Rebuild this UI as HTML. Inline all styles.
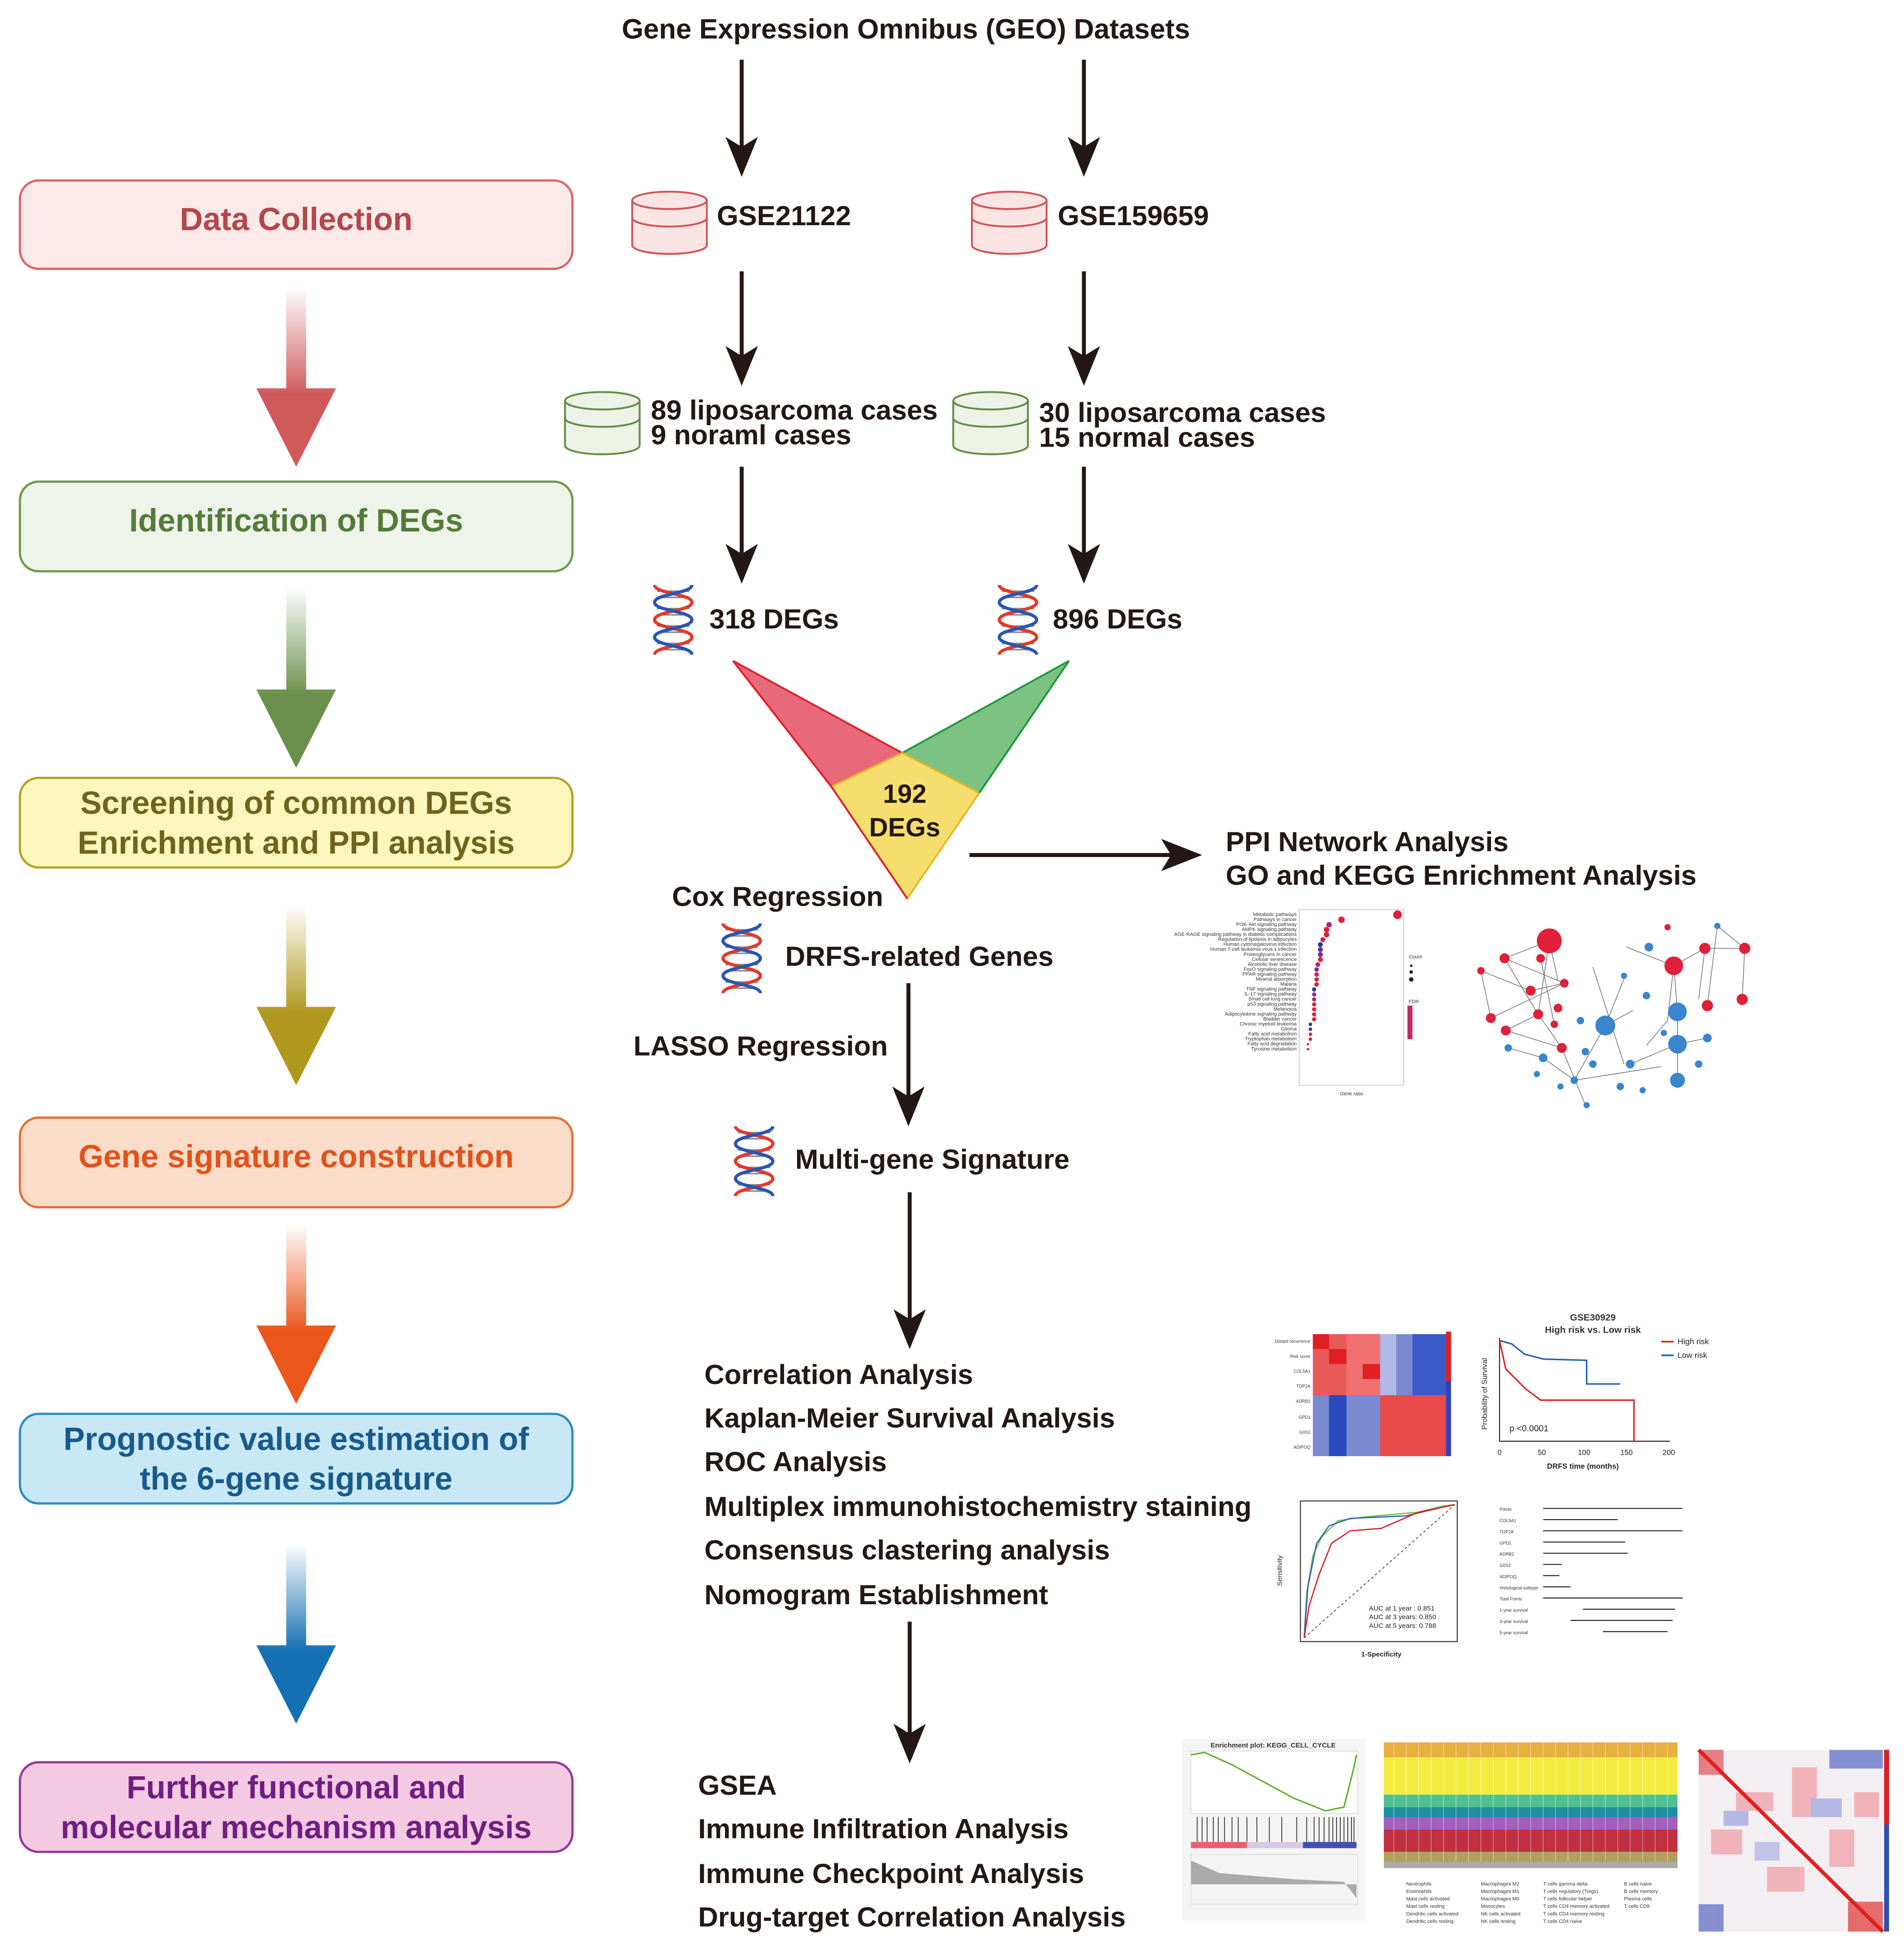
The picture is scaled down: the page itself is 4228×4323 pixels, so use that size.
<!DOCTYPE html>
<html><head><meta charset="utf-8"><style>html,body{margin:0;padding:0;background:#fff}svg{display:block}</style></head>
<body>
<svg xmlns="http://www.w3.org/2000/svg" width="4228" height="4323" viewBox="0 0 1530 1564.4" font-family="Liberation Sans, Arial, sans-serif">
<defs>
<linearGradient id="gr" x1="0" y1="0" x2="0" y2="1"><stop offset="0" stop-color="#fff"/><stop offset="0.6" stop-color="#d05a5a"/></linearGradient>
<linearGradient id="gg" x1="0" y1="0" x2="0" y2="1"><stop offset="0" stop-color="#fff"/><stop offset="0.6" stop-color="#6a8f4a"/></linearGradient>
<linearGradient id="gy" x1="0" y1="0" x2="0" y2="1"><stop offset="0" stop-color="#fff"/><stop offset="0.6" stop-color="#b0981e"/></linearGradient>
<linearGradient id="go" x1="0" y1="0" x2="0" y2="1"><stop offset="0" stop-color="#fff"/><stop offset="0.6" stop-color="#ea561c"/></linearGradient>
<linearGradient id="gb" x1="0" y1="0" x2="0" y2="1"><stop offset="0" stop-color="#fff"/><stop offset="0.6" stop-color="#1470b2"/></linearGradient>
<symbol id="cylR" viewBox="0 0 64 54"><path d="M2,9 v36 a30,7 0 0 0 60,0 v-36" fill="#fbe5e4" stroke="#d0545a" stroke-width="1.5"/><ellipse cx="32" cy="9" rx="30" ry="7" fill="#fbe5e4" stroke="#d0545a" stroke-width="1.5"/><path d="M2,23 a30,7 0 0 0 60,0" fill="none" stroke="#d0545a" stroke-width="1.5"/></symbol>
<symbol id="cylG" viewBox="0 0 64 54"><path d="M2,9 v36 a30,7 0 0 0 60,0 v-36" fill="#ecf3e6" stroke="#5f8d46" stroke-width="1.5"/><ellipse cx="32" cy="9" rx="30" ry="7" fill="#ecf3e6" stroke="#5f8d46" stroke-width="1.5"/><path d="M2,23 a30,7 0 0 0 60,0" fill="none" stroke="#5f8d46" stroke-width="1.5"/></symbol>
<symbol id="dna" viewBox="0 0 38 58">
<g stroke="#888" stroke-width="1.2"><line x1="6" y1="5" x2="32" y2="5"/><line x1="10" y1="10" x2="28" y2="10"/><line x1="6" y1="19" x2="32" y2="19"/><line x1="10" y1="24" x2="28" y2="24"/><line x1="6" y1="33" x2="32" y2="33"/><line x1="10" y1="38" x2="28" y2="38"/><line x1="6" y1="47" x2="32" y2="47"/><line x1="10" y1="52" x2="28" y2="52"/></g>
<path d="M4,0 C4,7 34,7 34,14 C34,21 4,21 4,28 C4,35 34,35 34,42 C34,49 4,49 4,56" fill="none" stroke="#e03a2a" stroke-width="2.6"/>
<path d="M34,0 C34,7 4,7 4,14 C4,21 34,21 34,28 C34,35 4,35 4,42 C4,49 34,49 34,56" fill="none" stroke="#2a56b0" stroke-width="2.6"/>
</symbol>
</defs>

<!-- Left boxes -->
<g font-weight="bold" text-anchor="middle" font-size="25.7">
<rect x="16" y="145" width="444" height="71" rx="15" fill="#fbeae8" stroke="#d9666c" stroke-width="1.8"/>
<text x="238" y="185" fill="#b2474c">Data Collection</text>
<rect x="16" y="387" width="444" height="72" rx="15" fill="#eef4ea" stroke="#6f9a4d" stroke-width="1.8"/>
<text x="238" y="427" fill="#557a39">Identification of DEGs</text>
<rect x="16" y="625" width="444" height="72" rx="15" fill="#fbf6bb" stroke="#b3a12c" stroke-width="1.8"/>
<text x="238" y="654" fill="#6e6420">Screening of common DEGs</text>
<text x="238" y="686" fill="#6e6420">Enrichment and PPI analysis</text>
<rect x="16" y="898" width="444" height="72" rx="15" fill="#fbdcc8" stroke="#e66f36" stroke-width="1.8"/>
<text x="238" y="938" fill="#e0531c">Gene signature construction</text>
<rect x="16" y="1136" width="444" height="72" rx="15" fill="#c9e8f5" stroke="#2c8bc4" stroke-width="1.8"/>
<text x="238" y="1165" fill="#195a8c">Prognostic value estimation of</text>
<text x="238" y="1197" fill="#195a8c">the 6-gene signature</text>
<rect x="16" y="1416" width="444" height="72" rx="15" fill="#f4c9e2" stroke="#93379a" stroke-width="1.8"/>
<text x="238" y="1445" fill="#6e1f80">Further functional and</text>
<text x="238" y="1477" fill="#6e1f80">molecular mechanism analysis</text>
</g>

<!-- gradient arrows -->
<path d="M230,230 h16 v82 h24 l-32,63 l-32,-63 h24 z" fill="url(#gr)"/>
<path d="M230,472 h16 v82 h24 l-32,63 l-32,-63 h24 z" fill="url(#gg)"/>
<path d="M230,727 h16 v82 h24 l-32,63 l-32,-63 h24 z" fill="url(#gy)"/>
<path d="M230,983 h16 v82 h24 l-32,63 l-32,-63 h24 z" fill="url(#go)"/>
<path d="M230,1240 h16 v82 h24 l-32,63 l-32,-63 h24 z" fill="url(#gb)"/>

<!-- flow -->
<text x="728" y="31" font-size="22.4" font-weight="bold" text-anchor="middle" fill="#231815">Gene Expression Omnibus (GEO) Datasets</text>
<g stroke="#231815" stroke-width="3.2" fill="none">
<line x1="596" y1="48" x2="596" y2="132"/><line x1="871" y1="48" x2="871" y2="132"/>
<line x1="596" y1="218" x2="596" y2="300"/><line x1="871" y1="218" x2="871" y2="300"/>
<line x1="596" y1="375" x2="596" y2="460"/><line x1="871" y1="375" x2="871" y2="460"/>
<line x1="779" y1="687" x2="950" y2="687"/>
<line x1="730" y1="790" x2="730" y2="892"/>
<line x1="731" y1="958" x2="731" y2="1074"/>
<line x1="731" y1="1303" x2="731" y2="1407"/>
</g>
<g fill="#231815">
<path d="M583,110 L596,142 L609,110 L596,118 Z"/><path d="M858,110 L871,142 L884,110 L871,118 Z"/>
<path d="M583,278 L596,310 L609,278 L596,286 Z"/><path d="M858,278 L871,310 L884,278 L871,286 Z"/>
<path d="M583,437 L596,469 L609,437 L596,445 Z"/><path d="M858,437 L871,469 L884,437 L871,445 Z"/>
<path d="M933,674 L966,687 L933,700 L941,687 Z"/>
<path d="M717,873 L730,905 L743,873 L730,881 Z"/>
<path d="M718,1052 L731,1084 L744,1052 L731,1060 Z"/>
<path d="M718,1385 L731,1417 L744,1385 L731,1393 Z"/>
</g>

<use href="#cylR" x="506" y="152" width="64" height="54"/>
<use href="#cylR" x="779" y="152" width="64" height="54"/>
<use href="#cylG" x="452" y="313" width="64" height="54"/>
<use href="#cylG" x="764" y="313" width="64" height="54"/>
<use href="#dna" x="522" y="470" width="38" height="58"/>
<use href="#dna" x="799" y="470" width="38" height="58"/>
<use href="#dna" x="577" y="742" width="38" height="58"/>
<use href="#dna" x="587" y="905" width="38" height="58"/>

<g font-weight="bold" fill="#231815" font-size="22.3">
<text x="576" y="181">GSE21122</text>
<text x="850" y="181">GSE159659</text>
<text x="523" y="337">89 liposarcoma cases</text>
<text x="523" y="357">9 noraml cases</text>
<text x="835" y="339">30 liposarcoma cases</text>
<text x="835" y="359">15 normal cases</text>
<text x="570" y="505">318 DEGs</text>
<text x="846" y="505">896 DEGs</text>
<text x="985" y="684">PPI Network Analysis</text>
<text x="985" y="711">GO and KEGG Enrichment Analysis</text>
<text x="540" y="728">Cox Regression</text>
<text x="631" y="776">DRFS-related Genes</text>
<text x="509" y="848">LASSO Regression</text>
<text x="639" y="939">Multi-gene Signature</text>
<text x="566" y="1112">Correlation Analysis</text>
<text x="566" y="1147">Kaplan-Meier Survival Analysis</text>
<text x="566" y="1182">ROC Analysis</text>
<text x="566" y="1218">Multiplex immunohistochemistry staining</text>
<text x="566" y="1253">Consensus clastering analysis</text>
<text x="566" y="1289">Nomogram Establishment</text>
<text x="561" y="1442">GSEA</text>
<text x="561" y="1477">Immune Infiltration Analysis</text>
<text x="561" y="1513">Immune Checkpoint Analysis</text>
<text x="561" y="1548">Drug-target Correlation Analysis</text>
</g>

<!-- V diagram -->
<polygon points="589,531 725,605 668,632" fill="#e8697a" stroke="#e0202a" stroke-width="1.5"/>
<polygon points="859,531 725,605 787,637" fill="#7cc283" stroke="#1e9a3a" stroke-width="1.5"/>
<polygon points="725,605 668,632 729,722 787,637" fill="#f6de6e" stroke="#e8b428" stroke-width="1.5"/>
<polyline points="589,531 668,632 729,722" fill="none" stroke="#e0202a" stroke-width="1.5"/>
<polyline points="859,531 787,637" fill="none" stroke="#1e9a3a" stroke-width="1.5"/>
<text x="727" y="645" font-size="21" font-weight="bold" text-anchor="middle" fill="#231815">192</text>
<text x="727" y="672" font-size="21" font-weight="bold" text-anchor="middle" fill="#231815">DEGs</text>

<!-- dot plot -->
<g font-size="4" fill="#333" text-anchor="end">
<rect x="1044" y="731" width="84" height="141" fill="#fff" stroke="#bbb" stroke-width="0.5"/>
<text x="1042" y="736">Metabolic pathways</text><text x="1042" y="740">Pathways in cancer</text><text x="1042" y="744">PI3K-Akt signaling pathway</text><text x="1042" y="748">AMPK signaling pathway</text><text x="1042" y="752">AGE-RAGE signaling pathway in diabetic complications</text><text x="1042" y="756">Regulation of lipolysis in adipocytes</text><text x="1042" y="760">Human cytomegalovirus infection</text><text x="1042" y="764">Human T-cell leukemia virus 1 infection</text><text x="1042" y="768">Proteoglycans in cancer</text><text x="1042" y="772">Cellular senescence</text><text x="1042" y="776">Alcoholic liver disease</text><text x="1042" y="780">FoxO signaling pathway</text><text x="1042" y="784">PPAR signaling pathway</text><text x="1042" y="788">Mineral absorption</text><text x="1042" y="792">Malaria</text><text x="1042" y="796">TNF signaling pathway</text><text x="1042" y="800">IL-17 signaling pathway</text><text x="1042" y="804">Small cell lung cancer</text><text x="1042" y="808">p53 signaling pathway</text><text x="1042" y="812">Melanoma</text><text x="1042" y="816">Adipocytokine signaling pathway</text><text x="1042" y="820">Bladder cancer</text><text x="1042" y="824">Chronic myeloid leukemia</text><text x="1042" y="828">Glioma</text><text x="1042" y="832">Fatty acid metabolism</text><text x="1042" y="836">Tryptophan metabolism</text><text x="1042" y="840">Fatty acid degradation</text><text x="1042" y="844">Tyrosine metabolism</text>
<text x="1086" y="880" text-anchor="middle">Gene ratio</text>
<text x="1132" y="770" text-anchor="start">Count</text><text x="1132" y="806" text-anchor="start">FDR</text>
</g>
<g fill="#222"><circle cx="1134" cy="776" r="1"/><circle cx="1134" cy="781" r="1.4"/><circle cx="1134" cy="787" r="1.8"/></g>
<g fill="#e0203a">
<circle cx="1123" cy="735" r="3.5"/><circle cx="1078" cy="739" r="2.6"/><circle cx="1068" cy="743" r="2.2" fill="#b02878"/><circle cx="1066" cy="747" r="2.2"/><circle cx="1066" cy="751" r="2.2"/><circle cx="1063" cy="755" r="2"/><circle cx="1061" cy="759" r="2" fill="#2a3a98"/><circle cx="1061" cy="763" r="2" fill="#5a34a0"/><circle cx="1061" cy="767" r="2" fill="#7a2aa0"/><circle cx="1061" cy="771" r="2"/><circle cx="1059" cy="775" r="1.9" fill="#b02878"/><circle cx="1058" cy="779" r="1.8" fill="#8a2a98"/><circle cx="1058" cy="783" r="1.8"/><circle cx="1058" cy="787" r="1.8"/><circle cx="1058" cy="791" r="1.8"/><circle cx="1056" cy="795" r="1.7" fill="#2a3a98"/><circle cx="1056" cy="799" r="1.7" fill="#8a2a98"/><circle cx="1056" cy="803" r="1.7" fill="#b02878"/><circle cx="1056" cy="807" r="1.7"/><circle cx="1056" cy="811" r="1.7"/><circle cx="1056" cy="815" r="1.7"/><circle cx="1056" cy="819" r="1.7"/><circle cx="1053" cy="823" r="1.4" fill="#2a3a98"/><circle cx="1053" cy="827" r="1.4" fill="#2a3a98"/><circle cx="1053" cy="831" r="1.4"/><circle cx="1053" cy="835" r="1.4"/><circle cx="1051" cy="839" r="1"/><circle cx="1051" cy="843" r="1"/>
</g>
<rect x="1131" y="808" width="4" height="27" fill="#c0286a"/>

<!-- network -->
<g stroke="#777" stroke-width="0.6">
<line x1="1209" y1="770" x2="1245" y2="756"/><line x1="1209" y1="770" x2="1257" y2="790"/><line x1="1209" y1="770" x2="1236" y2="815"/><line x1="1245" y1="756" x2="1236" y2="815"/><line x1="1245" y1="756" x2="1252" y2="788"/><line x1="1190" y1="780" x2="1198" y2="818"/><line x1="1198" y1="818" x2="1257" y2="790"/><line x1="1236" y1="815" x2="1255" y2="842"/><line x1="1236" y1="815" x2="1210" y2="828"/><line x1="1345" y1="776" x2="1340" y2="820"/><line x1="1340" y1="820" x2="1323" y2="840"/><line x1="1345" y1="776" x2="1307" y2="761"/><line x1="1370" y1="762" x2="1402" y2="762"/><line x1="1370" y1="762" x2="1365" y2="803"/><line x1="1290" y1="824" x2="1312" y2="812"/><line x1="1290" y1="824" x2="1265" y2="868"/><line x1="1348" y1="839" x2="1372" y2="834"/><line x1="1310" y1="855" x2="1348" y2="839"/><line x1="1265" y1="868" x2="1335" y2="857"/><line x1="1255" y1="842" x2="1274" y2="888"/><line x1="1306" y1="784" x2="1290" y2="824"/><line x1="1280" y1="777" x2="1305" y2="855"/>
<line x1="1190" y1="780" x2="1230" y2="796"/><line x1="1230" y1="796" x2="1257" y2="790"/><line x1="1210" y1="828" x2="1255" y2="842"/><line x1="1238" y1="770" x2="1249" y2="823"/><line x1="1370" y1="762" x2="1345" y2="776"/><line x1="1402" y1="762" x2="1400" y2="803"/><line x1="1380" y1="744" x2="1402" y2="762"/><line x1="1380" y1="744" x2="1372" y2="808"/><line x1="1348" y1="813" x2="1348" y2="868"/><line x1="1345" y1="776" x2="1348" y2="813"/><line x1="1240" y1="850" x2="1265" y2="868"/><line x1="1212" y1="842" x2="1240" y2="850"/></g>
<g fill="#e0203a">
<circle cx="1245" cy="756" r="10"/><circle cx="1209" cy="770" r="4"/><circle cx="1238" cy="770" r="3.5"/><circle cx="1190" cy="780" r="3"/><circle cx="1257" cy="790" r="3.5"/><circle cx="1230" cy="796" r="4"/><circle cx="1198" cy="818" r="4"/><circle cx="1252" cy="810" r="3.5"/><circle cx="1236" cy="815" r="4"/><circle cx="1210" cy="828" r="4"/><circle cx="1249" cy="823" r="3"/><circle cx="1255" cy="842" r="4"/><circle cx="1345" cy="776" r="7.5"/><circle cx="1340" cy="745" r="2.5"/><circle cx="1370" cy="762" r="4.5"/><circle cx="1402" cy="762" r="4.5"/><circle cx="1400" cy="803" r="4.5"/><circle cx="1372" cy="808" r="4.5"/></g>
<g fill="#3a86cc">
<circle cx="1380" cy="744" r="2.5"/><circle cx="1325" cy="761" r="3.5"/><circle cx="1290" cy="824" r="8"/><circle cx="1348" cy="813" r="7.5"/><circle cx="1348" cy="839" r="7.5"/><circle cx="1323" cy="800" r="3"/><circle cx="1337" cy="830" r="2.5"/><circle cx="1372" cy="834" r="3.5"/><circle cx="1365" cy="855" r="3"/><circle cx="1348" cy="868" r="6"/><circle cx="1280" cy="855" r="3"/><circle cx="1265" cy="868" r="3"/><circle cx="1240" cy="850" r="3.5"/><circle cx="1212" cy="842" r="3"/><circle cx="1274" cy="845" r="3"/><circle cx="1310" cy="855" r="3.5"/><circle cx="1254" cy="873" r="2.5"/><circle cx="1275" cy="888" r="2.5"/><circle cx="1302" cy="873" r="3"/><circle cx="1320" cy="876" r="2.5"/><circle cx="1270" cy="820" r="3"/><circle cx="1305" cy="784" r="2.5"/><circle cx="1235" cy="863" r="2.5"/></g>

<!-- heatmap -->
<g>
<rect x="1055" y="1072" width="107" height="98" fill="#7a8ad0"/>
<rect x="1055" y="1072" width="54" height="49" fill="#e85a5a"/>
<rect x="1109" y="1121" width="53" height="49" fill="#e84a4a"/>
<rect x="1082" y="1072" width="27" height="49" fill="#f07070"/>
<rect x="1068" y="1084" width="14" height="12" fill="#e02020"/><rect x="1095" y="1096" width="14" height="12" fill="#e02020"/><rect x="1055" y="1072" width="13" height="12" fill="#e02020"/>
<rect x="1068" y="1121" width="14" height="49" fill="#2a4ac0"/><rect x="1135" y="1072" width="27" height="49" fill="#3a5ac8"/>
<rect x="1109" y="1072" width="13" height="49" fill="#b0b8e8"/>
<rect x="1162" y="1070" width="4" height="100" fill="#3040c0"/><rect x="1162" y="1070" width="4" height="40" fill="#e02020"/>
<g font-size="3.5" fill="#333" text-anchor="end"><text x="1053" y="1079">Distant recurrence</text><text x="1053" y="1091">Risk score</text><text x="1053" y="1103">COL5A1</text><text x="1053" y="1115">TOP2A</text><text x="1053" y="1127">ADRB2</text><text x="1053" y="1140">GPD1</text><text x="1053" y="1152">G0S2</text><text x="1053" y="1164">ADIPOQ</text></g>
</g>

<!-- KM plot -->
<g>
<text x="1280" y="1061" font-size="7.5" font-weight="bold" text-anchor="middle" fill="#333">GSE30929</text>
<text x="1280" y="1071" font-size="7.5" font-weight="bold" text-anchor="middle" fill="#333">High risk vs. Low risk</text>
<path d="M1205,1075 V1158 H1342" fill="none" stroke="#222" stroke-width="0.8"/>
<path d="M1205,1077 L1215,1080 L1225,1088 L1240,1092 L1275,1093 V1112 H1302" fill="none" stroke="#2060b0" stroke-width="1.2"/>
<path d="M1205,1077 L1210,1100 L1218,1108 L1226,1116 L1238,1125 H1313 V1158" fill="none" stroke="#e02020" stroke-width="1.2"/>
<text x="1213" y="1150" font-size="7" fill="#222">p &lt;0.0001</text>
<text x="1195" y="1120" font-size="6" fill="#222" transform="rotate(-90 1195 1120)" text-anchor="middle">Probability of Survival</text>
<g font-size="6" fill="#222" text-anchor="middle"><text x="1205" y="1169">0</text><text x="1239" y="1169">50</text><text x="1273" y="1169">100</text><text x="1307" y="1169">150</text><text x="1341" y="1169">200</text><text x="1272" y="1180" font-weight="bold">DRFS time (months)</text></g>
<line x1="1335" y1="1078" x2="1345" y2="1078" stroke="#e02020" stroke-width="1.3"/><text x="1348" y="1080" font-size="6.5" fill="#222">High risk</text>
<line x1="1335" y1="1089" x2="1345" y2="1089" stroke="#2060b0" stroke-width="1.3"/><text x="1348" y="1091" font-size="6.5" fill="#222">Low risk</text>
</g>

<!-- ROC -->
<rect x="1045" y="1206" width="126" height="113" fill="#fff" stroke="#333" stroke-width="0.8"/>
<line x1="1048" y1="1316" x2="1169" y2="1209" stroke="#333" stroke-width="0.6" stroke-dasharray="2,2"/>
<path d="M1048,1316 L1050,1280 L1055,1250 L1062,1235 L1075,1222 L1095,1219 L1140,1215 L1160,1210 L1169,1209" fill="none" stroke="#70c040" stroke-width="1"/>
<path d="M1048,1316 L1051,1275 L1058,1240 L1068,1226 L1085,1220 L1130,1218 L1155,1212 L1169,1209" fill="none" stroke="#3060c0" stroke-width="1"/>
<path d="M1048,1316 L1052,1290 L1060,1265 L1070,1240 L1085,1230 L1110,1228 L1140,1215 L1169,1209" fill="none" stroke="#e02020" stroke-width="1"/>
<g font-size="5.5" fill="#222"><text x="1100" y="1294">AUC at 1 year  : 0.851</text><text x="1100" y="1301">AUC at 3 years: 0.850</text><text x="1100" y="1308">AUC at 5 years: 0.788</text>
<text x="1110" y="1331" text-anchor="middle" font-weight="bold">1-Specificity</text><text x="1030" y="1262" transform="rotate(-90 1030 1262)" text-anchor="middle">Sensitivity</text></g>

<!-- nomogram -->
<g stroke="#222" stroke-width="0.8">
<line x1="1240" y1="1212" x2="1352" y2="1212"/><line x1="1240" y1="1221" x2="1300" y2="1221"/><line x1="1240" y1="1230" x2="1352" y2="1230"/><line x1="1240" y1="1239" x2="1306" y2="1239"/><line x1="1240" y1="1248" x2="1308" y2="1248"/><line x1="1240" y1="1257" x2="1255" y2="1257"/><line x1="1240" y1="1266" x2="1253" y2="1266"/><line x1="1240" y1="1275" x2="1262" y2="1275"/><line x1="1240" y1="1284" x2="1352" y2="1284"/><line x1="1272" y1="1293" x2="1346" y2="1293"/><line x1="1262" y1="1302" x2="1344" y2="1302"/><line x1="1288" y1="1311" x2="1340" y2="1311"/></g>
<g font-size="3.5" fill="#333"><text x="1205" y="1214">Points</text><text x="1205" y="1223">COL5A1</text><text x="1205" y="1232">TOP2A</text><text x="1205" y="1241">GPD1</text><text x="1205" y="1250">ADRB2</text><text x="1205" y="1259">G0S2</text><text x="1205" y="1268">ADIPOQ</text><text x="1205" y="1277">Histological subtype</text><text x="1205" y="1286">Total Points</text><text x="1205" y="1295">1-year survival</text><text x="1205" y="1304">3-year survival</text><text x="1205" y="1313">5-year survival</text></g>

<!-- GSEA -->
<rect x="950" y="1397" width="147" height="146" fill="#f4f4f4"/>
<text x="1023" y="1404" font-size="5.5" font-weight="bold" text-anchor="middle" fill="#333">Enrichment plot: KEGG_CELL_CYCLE</text>
<rect x="957" y="1407" width="134" height="50" fill="#fff" stroke="#ccc" stroke-width="0.4"/>
<path d="M957,1410 L968,1408 L990,1418 L1040,1445 L1065,1455 L1080,1452 L1088,1420 L1090,1410" fill="none" stroke="#60b030" stroke-width="1.2"/>
<g stroke="#222" stroke-width="0.6"><path d="M962,1460v20M966,1460v20M970,1460v20M975,1460v20M979,1460v20M984,1460v20M990,1460v20M995,1460v20M1002,1460v20M1010,1460v20M1020,1460v20M1030,1460v20M1042,1460v20M1050,1460v20M1056,1460v20M1060,1460v20M1064,1460v20M1068,1460v20M1071,1460v20M1074,1460v20M1077,1460v20M1080,1460v20M1083,1460v20M1086,1460v20M1088,1460v20"/></g>
<rect x="957" y="1480" width="45" height="5" fill="#e86070"/><rect x="1002" y="1480" width="45" height="5" fill="#d8c8e8"/><rect x="1047" y="1480" width="43" height="5" fill="#4050b0"/>
<path d="M957,1495 L980,1505 L1040,1510 L1080,1512 L1090,1525 V1514 H957 Z" fill="#aaa"/>
<rect x="957" y="1490" width="134" height="40" fill="none" stroke="#ccc" stroke-width="0.4"/>

<!-- stacked bars -->
<rect x="1112" y="1400" width="236" height="12" fill="#e8b040"/>
<rect x="1112" y="1412" width="236" height="30" fill="#f2ec40"/>
<rect x="1112" y="1442" width="236" height="10" fill="#50c090"/>
<rect x="1112" y="1452" width="236" height="8" fill="#2090a0"/>
<rect x="1112" y="1460" width="236" height="10" fill="#a060c0"/>
<rect x="1112" y="1470" width="236" height="18" fill="#c03040"/>
<rect x="1112" y="1488" width="236" height="8" fill="#b0a060"/>
<g stroke="#fff" stroke-width="0.4" opacity="0.6"><path d="M1120,1400v96M1130,1400v96M1140,1400v96M1150,1400v96M1160,1400v96M1170,1400v96M1180,1400v96M1190,1400v96M1200,1400v96M1210,1400v96M1220,1400v96M1230,1400v96M1240,1400v96M1250,1400v96M1260,1400v96M1270,1400v96M1280,1400v96M1290,1400v96M1300,1400v96M1310,1400v96M1320,1400v96M1330,1400v96M1340,1400v96"/></g>
<rect x="1112" y="1496" width="236" height="5" fill="#aaa"/>
<g font-size="4" fill="#333"><text x="1130" y="1515">Neutrophils</text><text x="1130" y="1521">Eosinophils</text><text x="1130" y="1527">Mast cells activated</text><text x="1130" y="1533">Mast cells resting</text><text x="1130" y="1539">Dendritic cells activated</text><text x="1130" y="1545">Dendritic cells resting</text>
<text x="1190" y="1515">Macrophages M2</text><text x="1190" y="1521">Macrophages M1</text><text x="1190" y="1527">Macrophages M0</text><text x="1190" y="1533">Monocytes</text><text x="1190" y="1539">NK cells activated</text><text x="1190" y="1545">NK cells resting</text>
<text x="1240" y="1515">T cells gamma delta</text><text x="1240" y="1521">T cells regulatory (Tregs)</text><text x="1240" y="1527">T cells follicular helper</text><text x="1240" y="1533">T cells CD4 memory activated</text><text x="1240" y="1539">T cells CD4 memory resting</text><text x="1240" y="1545">T cells CD4 naive</text>
<text x="1305" y="1515">B cells naive</text><text x="1305" y="1521">B cells memory</text><text x="1305" y="1527">Plasma cells</text><text x="1305" y="1533">T cells CD8</text></g>

<!-- correlation matrix -->
<rect x="1365" y="1406" width="148" height="146" fill="#f3eef2"/>
<g opacity="0.75"><rect x="1365" y="1406" width="20" height="20" fill="#e05860"/><rect x="1395" y="1440" width="30" height="15" fill="#f0a0a8"/><rect x="1440" y="1420" width="20" height="40" fill="#f0a0a8"/><rect x="1375" y="1470" width="25" height="20" fill="#f0a0a8"/><rect x="1470" y="1470" width="20" height="30" fill="#f0a0a8"/><rect x="1420" y="1500" width="30" height="20" fill="#f0a0a8"/><rect x="1365" y="1530" width="20" height="22" fill="#6070c8"/><rect x="1470" y="1406" width="43" height="15" fill="#6070c8"/><rect x="1485" y="1528" width="28" height="24" fill="#e04040"/><rect x="1385" y="1455" width="20" height="12" fill="#a0a8e0"/><rect x="1455" y="1445" width="25" height="15" fill="#a0a8e0"/><rect x="1410" y="1480" width="20" height="15" fill="#b0b8e4"/><rect x="1490" y="1440" width="20" height="20" fill="#f0a0a8"/></g>
<line x1="1365" y1="1406" x2="1513" y2="1552" stroke="#e02020" stroke-width="3"/>
<rect x="1514" y="1406" width="4" height="146" fill="#3050b0"/><rect x="1514" y="1406" width="4" height="60" fill="#e02020"/>
</svg>
</body></html>
